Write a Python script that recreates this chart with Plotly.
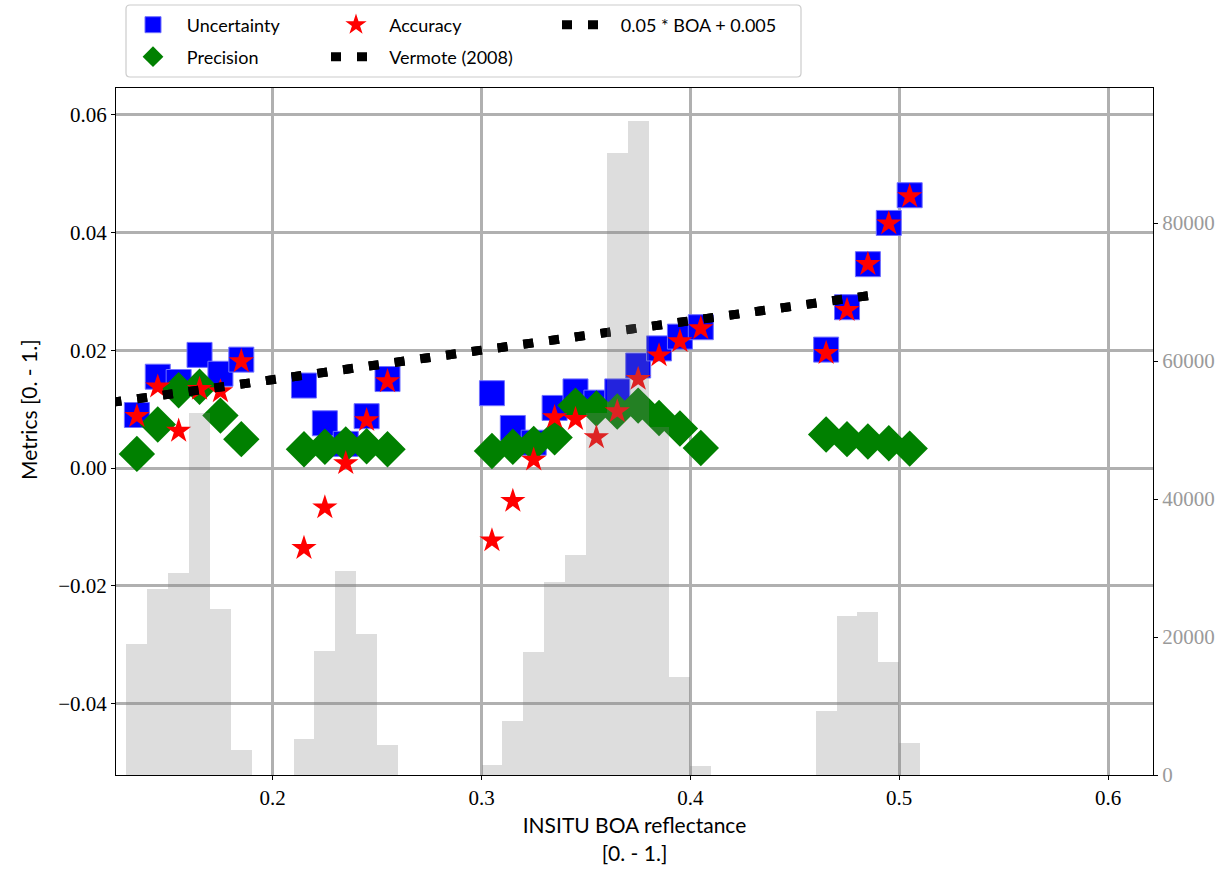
import plotly.graph_objects as go

# ---------------- data ----------------
boa = [0.135, 0.145, 0.155, 0.165, 0.175, 0.185,
       0.215, 0.225, 0.235, 0.245, 0.255,
       0.305, 0.315, 0.325, 0.335, 0.345, 0.355, 0.365, 0.375, 0.385, 0.395, 0.405,
       0.465, 0.475, 0.485, 0.495, 0.505]

uncertainty = [0.0090, 0.0155, 0.0146, 0.0192, 0.0160, 0.0184,
               0.0140, 0.0076, 0.0041, 0.0088, 0.0151,
               0.0127, 0.0068, 0.0043, 0.0102, 0.0130, 0.0111, 0.0130, 0.0174, 0.0203, 0.0223, 0.0239,
               0.0201, 0.0273, 0.0346, 0.0416, 0.0463]

accuracy = [0.0088, 0.0138, 0.0063, 0.0134, 0.0130, 0.0181,
            -0.0136, -0.0067, 0.0008, 0.0081, 0.0147,
            -0.0123, -0.0056, 0.0014, 0.0086, 0.0083, 0.0052, 0.0096, 0.0151, 0.0191, 0.0215, 0.0237,
            0.0195, 0.0268, 0.0346, 0.0415, 0.0461]

precision = [0.0024, 0.0074, 0.0132, 0.0138, 0.0089, 0.0049,
             0.0032, 0.0036, 0.0040, 0.0037, 0.0032,
             0.0029, 0.0036, 0.0041, 0.0052, 0.0106, 0.0101, 0.0096, 0.0106, 0.0085, 0.0067, 0.0034,
             0.0057, 0.0049, 0.0045, 0.0042, 0.0033]

hist_left = [0.13, 0.14, 0.15, 0.16, 0.17, 0.18,
             0.21, 0.22, 0.23, 0.24, 0.25,
             0.30, 0.31, 0.32, 0.33, 0.34, 0.35, 0.36, 0.37, 0.38, 0.39, 0.40,
             0.46, 0.47, 0.48, 0.49, 0.50]
hist_count = [19000, 27000, 29300, 52500, 24000, 3600,
              5200, 18000, 29500, 20500, 4300,
              1450, 7800, 17800, 28000, 31900, 52500, 90100, 94800, 50500, 14200, 1300,
              9300, 23000, 23600, 16400, 4700]
hist_width = 0.01

line_boa = [0.1228, 0.4900]
slope, offset = 0.05, 0.005
line_val = [slope * b + offset for b in line_boa]

x_ticks = [0.2, 0.3, 0.4, 0.5, 0.6]
y_ticks = [-0.04, -0.02, 0.0, 0.02, 0.04, 0.06]
y2_ticks = [0, 20000, 40000, 60000, 80000]

# ---------------- style ----------------
SERIF = "Liberation Serif, DejaVu Serif, serif"
SANS = "Lato"
GRID = "#b0b0b0"
PAD = "\u00a0" * 3

fig = go.Figure()

fig.add_trace(go.Scatter(
    x=boa, y=uncertainty, mode="markers", name=PAD + "Uncertainty",
    marker=dict(symbol="square", size=25, color="#0000ff", line=dict(width=1, color="#7070ff")),
    legend="legend"))
fig.add_trace(go.Scatter(
    x=boa, y=precision, mode="markers", name=PAD + "Precision",
    marker=dict(symbol="diamond", size=28, color="#008000", line=dict(width=0)),
    legend="legend2"))
fig.add_trace(go.Scatter(
    x=boa, y=accuracy, mode="markers", name=PAD + "Accuracy",
    marker=dict(symbol="star", size=19, color="#ff0000", line=dict(width=0)),
    legend="legend3"))
fig.add_trace(go.Scatter(
    x=line_boa, y=line_val, mode="lines", name=PAD + "Vermote (2008)",
    line=dict(color="black", width=9, dash="10px,16px"),
    legend="legend4"))
fig.add_trace(go.Scatter(
    x=line_boa, y=line_val, mode="lines", name=PAD + "0.05 * BOA + 0.005",
    line=dict(color="black", width=9, dash="10px,16px"),
    legend="legend5"))

fig.add_trace(go.Bar(
    x=hist_left, y=hist_count, width=hist_width, offset=0, yaxis="y2",
    marker=dict(color="rgba(128,128,128,0.27)", line=dict(width=0)),
    showlegend=False, hoverinfo="skip"))

W, H = 1217, 870
L, R, T, B = 116, 64, 88, 95
pw, ph = W - L - R, H - T - B


def px2paper(px, py):
    return (px - L) / pw, (H - B - py) / ph


def legend_at(px, py, iw=30):
    return dict(x=px / W, y=1 - py / H, xref="container", yref="container",
                xanchor="left", yanchor="middle", bgcolor="rgba(0,0,0,0)",
                borderwidth=0, font=dict(family=SANS, size=18, color="black"),
                itemsizing="trace", itemwidth=iw)


# legend frame (rounded rectangle)
x0, y0 = px2paper(126, 77)
x1, y1 = px2paper(801, 5)
rx, ry = 4 / pw, 4 / ph
path = (f"M{x0+rx},{y0} L{x1-rx},{y0} Q{x1},{y0} {x1},{y0+ry} L{x1},{y1-ry} "
        f"Q{x1},{y1} {x1-rx},{y1} L{x0+rx},{y1} Q{x0},{y1} {x0},{y1-ry} "
        f"L{x0},{y0+ry} Q{x0},{y0} {x0+rx},{y0} Z")
fig.add_shape(type="path", path=path, xref="paper", yref="paper",
              line=dict(color="#cccccc", width=1.2), fillcolor="rgba(255,255,255,0.8)",
              layer="above")

# y-axis title as rotated annotation
ytx, yty = px2paper(28, 410)
fig.add_annotation(text="Metrics [0. - 1.]", x=ytx, y=yty, xref="paper", yref="paper",
                   textangle=-90, showarrow=False, xanchor="center", yanchor="middle",
                   font=dict(family=SANS, size=21, color="black"))

fig.update_layout(
    width=W, height=H,
    margin=dict(l=L, r=R, t=T, b=B, pad=0, autoexpand=False),
    plot_bgcolor="white", paper_bgcolor="white",
    showlegend=True,
    legend=legend_at(133, 25),
    legend2=legend_at(133, 57),
    legend3=legend_at(336, 25),
    legend4=legend_at(326, 57, 40),
    legend5=legend_at(557, 25, 40),
    xaxis=dict(
        range=[0.125, 0.6215], tickvals=x_ticks, ticktext=[f"{v:.1f}" for v in x_ticks],
        showgrid=True, gridcolor=GRID, gridwidth=3, zeroline=False, automargin=False,
        showline=True, linecolor="black", linewidth=1, mirror=True,
        ticks="outside", ticklen=4, tickcolor="black",
        tickfont=dict(family=SERIF, size=21, color="black"),
        title=dict(text="INSITU BOA reflectance<br>[0. - 1.]",
                   font=dict(family=SANS, size=21, color="black"), standoff=9),
    ),
    yaxis=dict(
        range=[-0.0521, 0.0645], tickvals=y_ticks,
        ticktext=[("\u2212" if v < 0 else "") + f"{abs(v):.2f}" for v in y_ticks],
        showgrid=True, gridcolor=GRID, gridwidth=3, zeroline=False, automargin=False,
        showline=True, linecolor="black", linewidth=1,
        ticks="outside", ticklen=4, tickcolor="black",
        tickfont=dict(family=SERIF, size=21, color="black"),
    ),
    yaxis2=dict(
        overlaying="y", side="right", range=[0, 99565], tickvals=y2_ticks,
        ticktext=[str(v) for v in y2_ticks], automargin=False,
        showgrid=False, zeroline=False,
        showline=True, linecolor="black", linewidth=1,
        ticks="outside", ticklen=4, tickcolor="black",
        tickfont=dict(family=SERIF, size=21, color="#9a9a9a"),
    ),
    bargap=0,
)

fig.write_html("out.html")
